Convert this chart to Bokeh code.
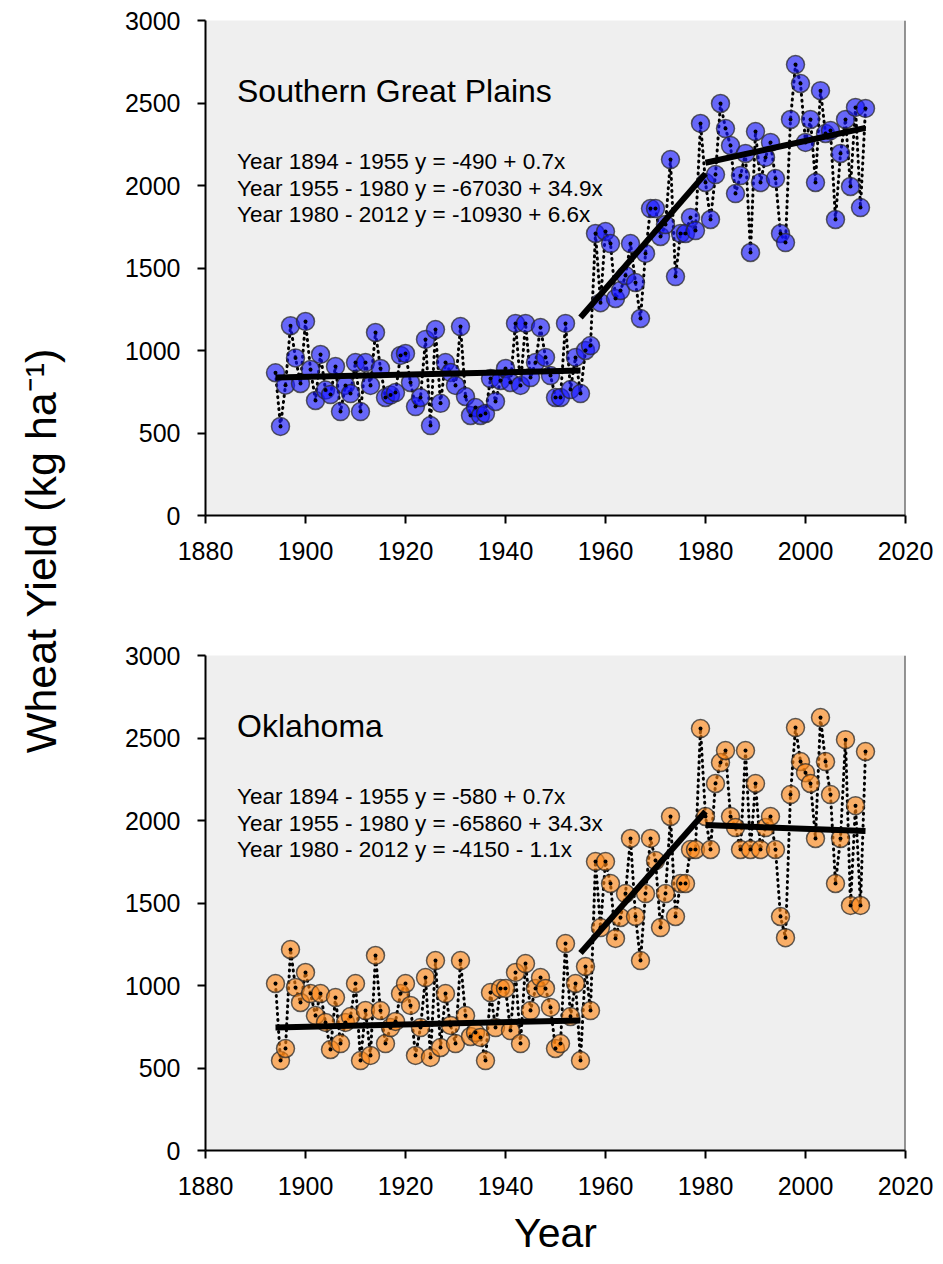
import math
from bokeh.plotting import figure
from bokeh.layouts import row, column
from bokeh.models import Label, Span, FixedTicker
from bokeh.core.properties import value
from bokeh.embed import file_html
from bokeh.resources import INLINE

# ---- data -------------------------------------------------------------
years = list(range(1894, 2013))

sgp_yield = [
    865, 540, 790, 1150, 955, 800,                                   # 1894-1899
    1176, 885, 697, 976, 760, 733, 903, 630, 788, 739,               # 1900s
    927, 630, 927, 788, 1109, 891, 715, 730, 745, 970,               # 1910s
    982, 806, 660, 715, 1067, 545, 1127, 680, 927, 867,              # 1920s
    788, 1145, 721, 606, 654, 606, 618, 830, 691, 818,               # 1930s
    891, 806, 1164, 788, 1164, 836, 927, 1139, 958, 848,             # 1940s
    715, 715, 1164, 763, 958, 739, 1000, 1030, 1709, 1290,           # 1950s
    1721, 1648, 1315, 1363, 1454, 1648, 1412, 1194, 1588, 1860,      # 1960s
    1860, 1691, 1763, 2157, 1448, 1709, 1709, 1806, 1727, 2376,      # 1970s
    2018, 1794, 2066, 2497, 2345, 2242, 1951, 2060, 2194, 1594,      # 1980s
    2327, 2018, 2170, 2261, 2042, 1709, 1654, 2400, 2733, 2618,      # 1990s
    2261, 2400, 2018, 2575, 2315, 2333, 1794, 2194, 2400, 1994,      # 2000s
    2473, 1866, 2467,                                                # 2010-2012
]

ok_yield = [
    1012, 545, 618, 1218, 988, 897,                                  # 1894-1899
    1079, 951, 818, 951, 776, 612, 927, 648, 776, 812,               # 1900s
    1012, 545, 848, 576, 1182, 848, 648, 745, 782, 951,              # 1910s
    1012, 879, 576, 745, 1048, 564, 1151, 624, 951, 758,             # 1920s
    648, 1151, 818, 691, 715, 685, 545, 957, 745, 982,               # 1930s
    982, 727, 1079, 648, 1133, 848, 982, 1048, 982, 867,             # 1940s
    618, 648, 1254, 812, 1012, 545, 1115, 848, 1751, 1351,           # 1950s
    1751, 1618, 1285, 1412, 1557, 1891, 1418, 1151, 1557, 1891,      # 1960s
    1757, 1351, 1557, 2024, 1418, 1618, 1618, 1824, 1824, 2557,      # 1970s
    2024, 1824, 2224, 2351, 2424, 2024, 1957, 1824, 2424, 1824,      # 1980s
    2224, 1824, 1957, 2024, 1824, 1418, 1290, 2157, 2563, 2357,      # 1990s
    2290, 2224, 1891, 2624, 2357, 2157, 1618, 1891, 2490, 1485,      # 2000s
    2090, 1485, 2418,                                                # 2010-2012
]

# piecewise regression segments: (start year, end year, intercept, slope)
sgp_segments = [(1894, 1955, -490, 0.7), (1955, 1980, -67030, 34.9), (1980, 2012, -10930, 6.6)]
ok_segments = [(1894, 1955, -580, 0.7), (1955, 1980, -65860, 34.3), (1980, 2012, 4150, -1.1)]

sgp_equations = [
    "Year 1894 - 1955 y = -490 + 0.7x",
    "Year 1955 - 1980 y = -67030 + 34.9x",
    "Year 1980 - 2012 y = -10930 + 6.6x",
]
ok_equations = [
    "Year 1894 - 1955 y = -580 + 0.7x",
    "Year 1955 - 1980 y = -65860 + 34.3x",
    "Year 1980 - 2012 y = -4150 - 1.1x",
]

x_ticks = list(range(1880, 2021, 20))
y_ticks = list(range(0, 3001, 500))

FONT = "Liberation Sans"
SIDE_W = 75


def yield_panel(title, yields, segments, equations, fill, height, border_bottom, x_label=None):
    p = figure(width=943 - SIDE_W - 8, height=height, x_range=(1880, 2020), y_range=(0, 3000),
               output_backend="svg", toolbar_location=None,
               min_border_left=205 - SIDE_W, min_border_right=30, min_border_top=20,
               min_border_bottom=border_bottom)
    p.background_fill_color = "#efefef"
    p.border_fill_color = "white"
    p.outline_line_color = None
    p.grid.visible = False

    for ax, ticks in ((p.xaxis, x_ticks), (p.yaxis, y_ticks)):
        ax.ticker = FixedTicker(ticks=ticks)
        ax.minor_tick_line_color = None
        ax.major_tick_in = 0
        ax.major_tick_out = 8
        ax.major_tick_line_width = 2
        ax.axis_line_width = 2
        ax.axis_line_color = "black"
        ax.major_tick_line_color = "black"
        ax.major_label_text_font = FONT
        ax.major_label_text_font_size = "25px"
        ax.major_label_text_color = "black"
    p.xaxis.major_label_standoff = 18
    p.yaxis.major_label_standoff = 17

    if x_label:
        p.xaxis.axis_label = x_label
        p.xaxis.axis_label_text_font = FONT
        p.xaxis.axis_label_text_font_size = "41px"
        p.xaxis.axis_label_text_font_style = "normal"
        p.xaxis.axis_label_text_color = "black"
        p.xaxis.axis_label_standoff = 12

    # right border of the panel
    p.add_layout(Span(location=2020, dimension="height", line_color="#333333", line_width=2))

    # year-to-year dotted connector
    p.line(years, yields, line_color="black", line_width=3, line_dash="1 5",
           line_cap="round")
    # annual values
    p.scatter(years, yields, size=18, fill_color=fill, fill_alpha=0.62,
              line_color="#2a2a2a", line_alpha=0.75, line_width=1.5)
    p.scatter(years, yields, size=4, fill_color="black", line_color=None)

    # regression segments
    for y0, y1, a, b in segments:
        p.line([y0, y1], [a + b * y0, a + b * y1], line_color="black", line_width=6)

    p.add_layout(Label(x=1886.3, y=2570, text=title, text_font=FONT,
                       text_font_size="32px", text_color="black",
                       text_baseline="alphabetic"))
    for i, eq in enumerate(equations):
        p.add_layout(Label(x=1886.3, y=2145 - i * 161, text=eq, text_font=FONT,
                           text_font_size="22.5px", text_color="black",
                           text_baseline="alphabetic"))
    return p


top = yield_panel("Southern Great Plains", sgp_yield, sgp_segments, sgp_equations,
                  "#1414ff", 635, 120)
bottom = yield_panel("Oklahoma", ok_yield, ok_segments, ok_equations,
                     "#ff8614", 629, 114, x_label="Year")

# shared y-axis title in its own narrow strip
side = figure(width=SIDE_W, height=1264, x_range=(0, SIDE_W), y_range=(0, 1264),
              output_backend="svg", toolbar_location=None,
              x_axis_type=None, y_axis_type=None, min_border=0)
side.outline_line_color = None
side.grid.visible = False
side.background_fill_color = "white"
side.text(x=[40], y=[1264 - 550], text=["Wheat Yield (kg ha\u207b\u00b9)"],
          angle=math.pi / 2, text_align="center", text_baseline="middle",
          text_font=value(FONT), text_font_size="43px", text_color="black")

layout = row(side, column(top, bottom))

with open("out.html", "w") as f:
    f.write(file_html(layout, INLINE))
